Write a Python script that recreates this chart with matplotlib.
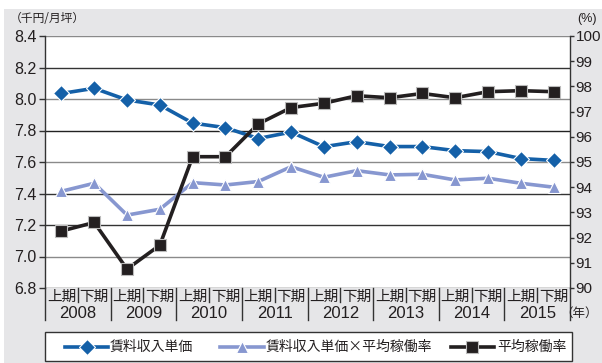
import matplotlib
matplotlib.use("Agg")
import matplotlib.pyplot as plt
from matplotlib.lines import Line2D
from matplotlib.patches import Rectangle
import matplotlib.transforms as mtransforms

plt.rcParams['font.family'] = ['Noto Sans CJK JP', 'DejaVu Sans']
NUM_FONT = ['Liberation Sans', 'DejaVu Sans']

years = ['2008', '2009', '2010', '2011', '2012', '2013', '2014', '2015']
halves = ['上期', '下期']

rent_unit = [8.035, 8.068, 7.994, 7.962, 7.847, 7.818, 7.749, 7.790,
             7.697, 7.729, 7.698, 7.698, 7.672, 7.666, 7.622, 7.610]
rent_x_occ = [7.414, 7.465, 7.263, 7.300, 7.469, 7.454, 7.476, 7.570,
              7.503, 7.545, 7.518, 7.522, 7.486, 7.497, 7.465, 7.440]
occupancy = [92.26, 92.60, 90.75, 91.70, 95.21, 95.21, 96.51, 97.16,
             97.33, 97.63, 97.55, 97.72, 97.55, 97.79, 97.83, 97.79]

left_ticks = [6.8, 7.0, 7.2, 7.4, 7.6, 7.8, 8.0, 8.2, 8.4]
right_ticks = [90, 91, 92, 93, 94, 95, 96, 97, 98, 99, 100]

C_BLUE = '#1460a8'
C_LIGHT = '#8797d0'
C_BLACK = '#231f20'

W, H = 602, 363
fig = plt.figure(figsize=(W / 100, H / 100), dpi=100)
fig.patch.set_facecolor('white')

# gray panel behind the chart
fig.add_artist(Rectangle((4 / W, 0), (W - 4) / W, (H - 9) / H,
                         transform=fig.transFigure, facecolor='#e6e6e8',
                         edgecolor='none', zorder=-10))

L, R, T, B = 45, 570, 36, 288
ax = fig.add_axes([L / W, 1 - B / H, (R - L) / W, (B - T) / H])
ax.set_facecolor('white')
ax2 = ax.twinx()

n = len(rent_unit)
x = list(range(n))
ax.set_xlim(-0.5, n - 0.5)
ax.set_ylim(6.8, 8.4)
ax2.set_ylim(90, 100)

# horizontal grid
grid_cols = {6.8: '#333333', 7.0: '#8a8a8a', 7.2: '#333333', 7.4: '#333333',
             7.6: '#8a8a8a', 7.8: '#222222', 8.0: '#8a8a8a', 8.2: '#333333',
             8.4: '#8a8a8a'}
for v in left_ticks:
    ax.axhline(v, color=grid_cols[v], lw=1.0, zorder=1)

for a in (ax, ax2):
    for s in a.spines.values():
        s.set_visible(False)
ax.spines['left'].set_visible(True)
ax.spines['left'].set_color('#333333')
ax.spines['left'].set_linewidth(1.0)
ax2.spines['right'].set_visible(True)
ax2.spines['right'].set_color('#333333')
ax2.spines['right'].set_linewidth(1.0)

ax.set_xticks([])
ax.set_yticks(left_ticks)
ax.set_yticklabels([f'{v:.1f}' for v in left_ticks], family=NUM_FONT)
ax.tick_params(axis='y', direction='out', length=4, width=1, color='#333333',
               labelsize=11.5, labelcolor='#231f20', pad=2)
ax2.set_yticks(right_ticks)
ax2.set_yticklabels([str(v) for v in right_ticks], family=NUM_FONT)
ax2.tick_params(axis='y', direction='out', length=3, width=1, color='#333333',
                labelsize=11, labelcolor='#231f20', pad=1)

ax.plot(x, rent_unit, color=C_BLUE, lw=2.6, marker='D', ms=8.5,
        mfc=C_BLUE, mec='white', mew=0.8, zorder=4)
ax.plot(x, rent_x_occ, color=C_LIGHT, lw=2.6, marker='^', ms=8.5,
        mfc=C_LIGHT, mec='white', mew=0.8, zorder=3)
ax2.plot(x, occupancy, color=C_BLACK, lw=2.6, marker='s', ms=8,
         mfc=C_BLACK, mec='#bbbbbb', mew=0.8, zorder=5)

# category axis below the plot
trans = mtransforms.blended_transform_factory(ax.transData, fig.transFigure)
def fy(py):
    return 1 - py / H

for i in range(n):
    ax.text(i, fy(297), halves[i % 2], transform=trans, ha='center',
            va='center', fontsize=10.5, color='#231f20', clip_on=False)
for k, yr in enumerate(years):
    ax.text(2 * k + 0.5, fy(313), yr, transform=trans, ha='center',
            va='center', fontsize=12, color='#231f20', clip_on=False,
            family=NUM_FONT)
for b in range(n + 1):
    xb = b - 0.5
    bottom = 320 if b % 2 == 0 else 302
    fig.add_artist(Line2D([xb, xb], [fy(B), fy(bottom)], transform=trans,
                          color='#333333', lw=1.0))

fig.text(10 / W, fy(19), '（千円/月坪）', ha='left', va='center',
         fontsize=8.5, color='#231f20')
fig.text(597 / W, fy(19), '(%)', ha='right', va='center',
         fontsize=9, color='#231f20', family=NUM_FONT)
fig.text(598 / W, fy(313), '（年）', ha='right', va='center',
         fontsize=9, color='#231f20')

# legend box
lx0, lx1, ly0, ly1 = 45, 572, 332, 361
fig.add_artist(Rectangle((lx0 / W, fy(ly1)), (lx1 - lx0) / W, (ly1 - ly0) / H,
                         transform=fig.transFigure, facecolor='white',
                         edgecolor='#333333', lw=1.0))
ly = fy(346.5)
entries = [
    (65, 108, 110, '賃料収入単価', C_BLUE, 'D', 'white'),
    (220, 264, 266, '賃料収入単価×平均稼働率', C_LIGHT, '^', 'white'),
    (451, 494, 497, '平均稼働率', C_BLACK, 's', '#bbbbbb'),
]
for x0, x1, tx, label, col, mk, ec in entries:
    fig.add_artist(Line2D([x0 / W, x1 / W], [ly, ly], transform=fig.transFigure,
                          color=col, lw=2.6))
    fig.add_artist(Line2D([(x0 + x1) / 2 / W], [ly], transform=fig.transFigure,
                          color=col, marker=mk, ms=8, mfc=col, mec=ec, mew=0.8,
                          lw=0))
    fig.text(tx / W, ly, label, ha='left', va='center', fontsize=10,
             color='#231f20')

fig.savefig('out.png', dpi=100, facecolor=fig.get_facecolor())
